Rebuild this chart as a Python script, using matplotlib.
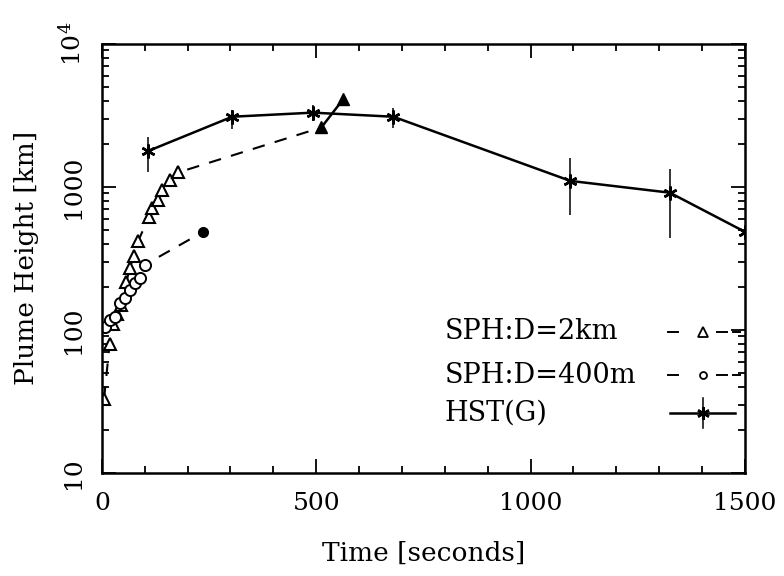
import matplotlib
matplotlib.use('Agg')
import matplotlib.pyplot as plt
from matplotlib.ticker import NullFormatter, LogLocator, MultipleLocator

plt.rcParams['font.family'] = 'DejaVu Serif'
plt.rcParams['mathtext.fontset'] = 'dejavuserif'

# SPH, D = 2 km (open triangles, dashed), last two points filled
t_2km = [5, 18, 25, 35, 45, 57, 65, 75, 85, 110, 118, 130, 140, 160, 178, 512]
h_2km = [33, 80, 110, 130, 150, 215, 270, 330, 420, 620, 710, 810, 950, 1120, 1260, 2600]
t_2km_end = [512, 563]
h_2km_end = [2600, 4100]

# SPH, D = 400 m (open circles, dashed), last point filled
t_400 = [7, 19, 30, 42, 54, 65, 77, 89, 100, 236]
h_400 = [105, 117, 123, 155, 167, 190, 213, 230, 285, 484]

# HST(G) observations with error bars
t_hst = [108, 304, 492, 680, 1093, 1325, 1500]
h_hst = [1780, 3090, 3300, 3090, 1100, 910, 485]
h_lo = [1270, 2550, 2890, 2590, 635, 437, 485]
h_hi = [2240, 3450, 3740, 3550, 1590, 1340, 485]

labels = ['SPH:D=2km', 'SPH:D=400m', 'HST(G)']

fig = plt.figure(figsize=(7.84, 5.76), dpi=100)
ax = fig.add_axes([0.130, 0.179, 0.820, 0.745])

star = (6, 2, 0)
dash = (0, (6, 5))

# 2 km run
ax.plot(t_2km, h_2km, color='black', linestyle=dash, linewidth=1.5)
ax.plot(t_2km[:-1], h_2km[:-1], linestyle='none', marker='^', markersize=9,
        markerfacecolor='white', markeredgecolor='black', markeredgewidth=1.5)
ax.plot(t_2km_end, h_2km_end, color='black', linewidth=1.8, marker='^', markersize=9,
        markerfacecolor='black', markeredgecolor='black')

# 400 m run
ax.plot(t_400, h_400, color='black', linestyle=dash, linewidth=1.5)
ax.plot(t_400[:-1], h_400[:-1], linestyle='none', marker='o', markersize=8,
        markerfacecolor='white', markeredgecolor='black', markeredgewidth=1.4)
ax.plot(t_400[-1:], h_400[-1:], linestyle='none', marker='o', markersize=7,
        markerfacecolor='black', markeredgecolor='black')

# HST
yerr = [[h - lo for h, lo in zip(h_hst, h_lo)], [hi - h for h, hi in zip(h_hst, h_hi)]]
ax.errorbar(t_hst, h_hst, yerr=yerr, color='black', linewidth=1.8,
            marker=star, markersize=10, markeredgewidth=1.8, elinewidth=1.1, capsize=0)

ax.set_yscale('log')
ax.set_xlim(0, 1500)
ax.set_ylim(10, 10000)

ax.set_xticks([0, 500, 1000, 1500])
ax.set_xticklabels(['0', '500', '1000', '1500'])
ax.xaxis.set_minor_locator(MultipleLocator(100))
ax.set_yticks([10, 100, 1000, 10000])
ax.set_yticklabels(['10', '100', '1000', r'$10^4$'], rotation=90, va='center')
ax.yaxis.set_minor_locator(LogLocator(base=10, subs=range(2, 10)))
ax.yaxis.set_minor_formatter(NullFormatter())

ax.tick_params(which='both', direction='in', top=True, right=True, width=1.3)
ax.tick_params(which='major', length=10, labelsize=18)
ax.tick_params(which='minor', length=5)
ax.tick_params(axis='x', pad=14)
ax.tick_params(axis='y', pad=12)
for s in ax.spines.values():
    s.set_linewidth(1.8)

ax.set_xlabel('Time [seconds]', fontsize=19, labelpad=18)
ax.set_ylabel('Plume Height [km]', fontsize=19, labelpad=14)

# legend drawn by hand: labels left-aligned, sample lines on the right
tr = ax.transAxes
rows = [0.329, 0.228, 0.140]
for lab, yy in zip(labels, rows):
    ax.text(0.533, yy, lab, transform=tr, fontsize=19.5, va='center', ha='left')

kw = dict(transform=tr, clip_on=False, color='black')
for yy, mk, ms in [(rows[0], '^', 7), (rows[1], 'o', 5)]:
    for x0, x1 in [(0.881, 0.896), (0.957, 0.973), (0.981, 0.992)]:
        ax.plot([x0, x1], [yy, yy], linewidth=1.4, **kw)
    ax.plot([0.935], [yy], marker=mk, markersize=ms, markerfacecolor='white',
            markeredgewidth=1.3, linestyle='none', **kw)
ax.plot([0.883, 0.984], [rows[2], rows[2]], linewidth=1.8, **kw)
ax.plot([0.935, 0.935], [rows[2] - 0.035, rows[2] + 0.035], linewidth=1.1, **kw)
ax.plot([0.935], [rows[2]], marker=star, markersize=9, markeredgewidth=1.8,
        linestyle='none', **kw)

fig.savefig('out.png', dpi=100)
